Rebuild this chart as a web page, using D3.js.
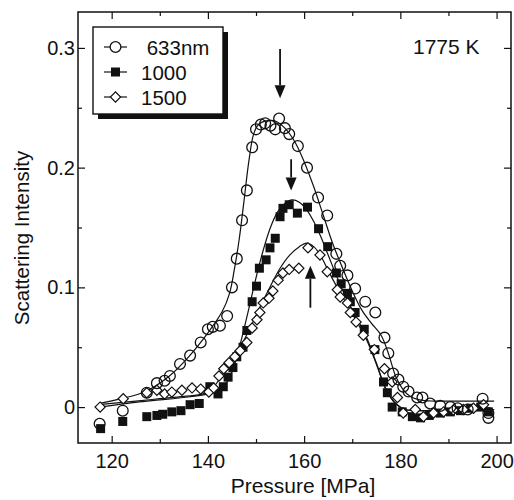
<!DOCTYPE html>
<html>
<head>
<meta charset="utf-8">
<title>Scattering Intensity</title>
<style>
body { margin: 0; background: #fff; }
svg text { font-family: "Liberation Sans", Arial, sans-serif; fill: #111; }
.axis path { display: none; }
.axis line { stroke: #111; stroke-width: 1.2; }
.axis text { font-size: 20px; }
.frame { fill: none; stroke: #111; stroke-width: 1.5; }
.fit { fill: none; stroke: #111; stroke-width: 1.2; }
</style>
</head>
<body>
<script src="https://cdn.jsdelivr.net/npm/d3@7"></script>
<script>
// measured points [pressure MPa, intensity]
var pts633 = [[117.5,-0.014],[122.3,-0.003],[127.3,0.012],[129.4,0.02],[131,0.022],[132.1,0.026],[134.2,0.036],[136.3,0.043],[138.5,0.054],[140,0.065],[141,0.067],[142.5,0.068],[144,0.076],[145,0.10],[146,0.124],[147.1,0.156],[148.1,0.181],[149.2,0.217],[150,0.232],[151,0.236],[151.9,0.237],[153,0.235],[154,0.232],[154.8,0.241],[156,0.233],[156.9,0.228],[158.7,0.218],[160.6,0.200],[162.9,0.175],[164.8,0.160],[166.7,0.128],[167.5,0.118],[169,0.110],[170.6,0.099],[172.7,0.088],[174.8,0.079],[176.7,0.058],[177.5,0.045],[178.5,0.028],[179.6,0.023],[180.6,0.017],[181.7,0.013],[183.5,0.008],[184.6,0.008],[186.2,0.003],[188.3,0.001],[190.4,0],[191.9,-0.001],[194,-0.002],[197.1,0.007],[198.3,-0.005],[198.3,-0.009]];
var pts1000 = [[117.7,-0.018],[122.3,-0.012],[127.3,-0.008],[129.4,-0.007],[130.6,-0.006],[132.5,-0.004],[134.4,-0.003],[136.3,0.002],[138.2,0.003],[140.4,0.017],[142.1,0.011],[143.2,0.017],[144.2,0.025],[145.2,0.033],[146,0.042],[147.3,0.05],[148.1,0.064],[149.2,0.088],[150.1,0.101],[150.7,0.116],[152.1,0.123],[152.9,0.133],[154,0.141],[155,0.159],[155.6,0.166],[156.9,0.169],[158.6,0.162],[160.7,0.167],[163,0.149],[164.9,0.134],[166.7,0.112],[167.7,0.103],[169,0.095],[169.6,0.088],[170.6,0.079],[172.5,0.065],[174.7,0.048],[176.5,0.021],[177.3,0.012],[178.3,0],[180.4,-0.004],[182.5,-0.008],[184.2,-0.009],[186,-0.007],[188.3,-0.005],[190.4,-0.004],[192.5,-0.003],[194.6,-0.001],[196.7,0],[198.3,-0.004]];
var pts1500 = [[117.6,0],[122.4,0.007],[127.3,0.012],[129.4,0.014],[131,0.011],[132.5,0.0125],[134.6,0.014],[136.7,0.016],[138.5,0.015],[140.2,0.0125],[141.2,0.016],[142.3,0.026],[143.3,0.032],[144.4,0.037],[145.6,0.042],[146.7,0.047],[148.1,0.054],[149.2,0.066],[150.2,0.073],[150.8,0.079],[151.5,0.087],[152.7,0.091],[153.5,0.097],[154.6,0.106],[155.6,0.112],[156.9,0.115],[158.9,0.116],[160.8,0.133],[163.3,0.127],[164.8,0.113],[166.9,0.098],[167.5,0.092],[169,0.087],[169.6,0.079],[170.8,0.071],[172.3,0.06],[174.6,0.048],[176.7,0.032],[178.3,0.021],[179.4,0.008],[180.6,-0.005],[183.1,-0.002],[184.8,-0.008],[186.9,-0.005],[189,-0.004],[191,-0.0025],[193.1,-0.002],[195.2,-0.001],[197.3,0.002]];

// fitted curves
var fit633 = [[117.3,0.003],[122,0.007],[127,0.013],[132,0.026],[136,0.042],[140,0.062],[143,0.08],[144.5,0.095],[145.5,0.115],[146.5,0.14],[147.5,0.172],[148.5,0.205],[149.5,0.228],[150.5,0.236],[152,0.239],[154,0.239],[156,0.233],[158,0.222],[160,0.205],[162,0.184],[164,0.16],[166,0.136],[168,0.116],[170,0.097],[172,0.081],[174,0.07],[176,0.06],[177.5,0.045],[179,0.026],[180.5,0.015],[182,0.009],[184,0.006],[187,0.005],[192,0.005],[199.5,0.005]];
var fit1000 = [[117.3,0.0],[125,0.004],[130,0.006],[135,0.008],[140,0.011],[142,0.014],[144,0.021],[145.5,0.035],[147,0.057],[148.5,0.082],[150,0.108],[151.5,0.131],[153,0.15],[154.5,0.163],[156,0.17],[157.5,0.173],[159,0.171],[160.5,0.165],[162,0.155],[163.5,0.142],[165,0.127],[167,0.107],[169,0.089],[171,0.074],[173,0.058],[175,0.037],[177,0.015],[179,0.003],[181,-0.002],[184,-0.003],[190,-0.002],[199.5,-0.002]];
var fit1500 = [[117.3,0.002],[125,0.005],[130,0.007],[135,0.009],[139,0.011],[141,0.016],[143,0.027],[145,0.039],[147,0.052],[149,0.068],[151,0.085],[153,0.101],[155,0.116],[157,0.127],[159,0.134],[160.5,0.137],[162,0.134],[163.5,0.126],[165,0.114],[167,0.099],[169,0.085],[171,0.071],[173,0.056],[175,0.036],[177,0.015],[179,0.003],[181,-0.002],[184,-0.003],[190,-0.002],[199.5,-0.002]];

var seriesNames = [" 633nm", "1000", "1500"];
var xTicks = [120, 140, 160, 180, 200];
var xMinor = [130, 150, 170, 190];
var yTicks = [0, 0.1, 0.2, 0.3];
var yTickLabels = ["0", "0.1", "0.2", "0.3"];
var yMinor = [0.05, 0.15, 0.25];
// arrows: pressure, tail intensity, tip intensity
var arrowP = [155, 157.3, 161.3];
var arrowFrom = [0.299, 0.207, 0.083];
var arrowTo = [0.258, 0.181, 0.118];

var width = 514, height = 500;
var svg = d3.select("body").append("svg")
	.attr("width", width)
	.attr("height", height);

var x = d3.scaleLinear().domain([113, 203]).range([78, 511]);
var y = d3.scaleLinear().domain([-0.03, 0.33]).range([443, 12]);

// axes, ticks inside on all four sides
svg.append("g").attr("class", "axis").attr("transform", "translate(0,443)")
	.call(d3.axisBottom(x).tickValues(xTicks).tickSize(-7).tickPadding(11));
svg.append("g").attr("class", "axis").attr("transform", "translate(0,443)")
	.call(d3.axisBottom(x).tickValues(xMinor).tickSize(-4).tickFormat(""));
svg.append("g").attr("class", "axis").attr("transform", "translate(0,12)")
	.call(d3.axisTop(x).tickValues(xTicks).tickSize(-7).tickFormat(""));
svg.append("g").attr("class", "axis").attr("transform", "translate(0,12)")
	.call(d3.axisTop(x).tickValues(xMinor).tickSize(-4).tickFormat(""));
svg.append("g").attr("class", "axis").attr("transform", "translate(78,0)")
	.call(d3.axisLeft(y).tickValues(yTicks).tickSize(-7).tickPadding(3)
		.tickFormat(function(d, i){ return yTickLabels[i]; }));
svg.append("g").attr("class", "axis").attr("transform", "translate(78,0)")
	.call(d3.axisLeft(y).tickValues(yMinor).tickSize(-4).tickFormat(""));
svg.append("g").attr("class", "axis").attr("transform", "translate(511,0)")
	.call(d3.axisRight(y).tickValues(yTicks).tickSize(-7).tickFormat(""));
svg.append("g").attr("class", "axis").attr("transform", "translate(511,0)")
	.call(d3.axisRight(y).tickValues(yMinor).tickSize(-4).tickFormat(""));

svg.append("rect").attr("class", "frame")
	.attr("x", x(113)).attr("y", y(0.33))
	.attr("width", x(203) - x(113)).attr("height", y(-0.03) - y(0.33));

// fitted lines
var line = d3.line()
	.x(function(d){ return x(d[0]); })
	.y(function(d){ return y(d[1]); })
	.curve(d3.curveCatmullRom.alpha(0.5));
[fit633, fit1000, fit1500].forEach(function(f){
	svg.append("path").attr("class", "fit").attr("d", line(f));
});

// markers
var sq = d3.symbol(d3.symbolSquare, 81)();
var dia = d3.symbol(d3.symbolSquare, 52)();
svg.append("g").selectAll("path")
	.data(pts1000).enter().append("path")
	.attr("d", sq)
	.attr("transform", function(d){ return "translate(" + x(d[0]) + "," + y(d[1]) + ")"; })
	.attr("fill", "#111");
svg.append("g").selectAll("path")
	.data(pts1500).enter().append("path")
	.attr("d", dia)
	.attr("transform", function(d){ return "translate(" + x(d[0]) + "," + y(d[1]) + ") rotate(45)"; })
	.attr("fill", "#fff").attr("stroke", "#111").attr("stroke-width", 1.2);
svg.append("g").selectAll("circle")
	.data(pts633).enter().append("circle")
	.attr("cx", function(d){ return x(d[0]); })
	.attr("cy", function(d){ return y(d[1]); })
	.attr("r", 5.4)
	.attr("fill", "none").attr("stroke", "#111").attr("stroke-width", 1.3);

// arrows
for (let i = 0; i < arrowP.length; i++) {
	var ax = x(arrowP[i]), y0 = y(arrowFrom[i]), y1 = y(arrowTo[i]);
	var dir = y1 > y0 ? 1 : -1;
	var hl = 13, hw = 5.5;
	svg.append("line")
		.attr("x1", ax).attr("x2", ax)
		.attr("y1", y0).attr("y2", y1 - dir * hl)
		.attr("stroke", "#111").attr("stroke-width", 1.8);
	svg.append("path")
		.attr("d", "M" + ax + "," + y1 + "L" + (ax - hw) + "," + (y1 - dir * hl) + "L" + (ax + hw) + "," + (y1 - dir * hl) + "Z")
		.attr("fill", "#111");
}

// legend
var lg = svg.append("g");
lg.append("rect").attr("x", 98).attr("y", 32).attr("width", 130).attr("height", 87).attr("fill", "#111");
lg.append("rect").attr("x", 93).attr("y", 27).attr("width", 130).attr("height", 87)
	.attr("fill", "#fff").attr("stroke", "#111").attr("stroke-width", 1.4);
seriesNames.forEach(function(name, i){
	var ry = 47 + i * 25;
	lg.append("line").attr("x1", 104).attr("x2", 127).attr("y1", ry).attr("y2", ry)
		.attr("stroke", "#111").attr("stroke-width", 1.2);
	if (i == 0) {
		lg.append("circle").attr("cx", 115.5).attr("cy", ry).attr("r", 5.4)
			.attr("fill", "#fff").attr("stroke", "#111").attr("stroke-width", 1.3);
	} else if (i == 1) {
		lg.append("path").attr("d", sq).attr("transform", "translate(115.5," + ry + ")").attr("fill", "#111");
	} else {
		lg.append("path").attr("d", dia).attr("transform", "translate(115.5," + ry + ") rotate(45)")
			.attr("fill", "#fff").attr("stroke", "#111").attr("stroke-width", 1.2);
	}
	lg.append("text").attr("x", 141).attr("y", ry + 7.5)
		.style("white-space", "pre").style("font-size", "20.5px")
		.text(name);
});

svg.append("text").attr("x", 413).attr("y", 54).style("font-size", "21px").text("1775 K");

// axis titles
svg.append("text")
	.attr("x", 303).attr("y", 493)
	.attr("text-anchor", "middle").style("font-size", "21px")
	.text("Pressure [MPa]");
svg.append("text")
	.attr("transform", "translate(29," + 238 + ") rotate(-90)")
	.attr("text-anchor", "middle").style("font-size", "20.5px")
	.text("Scattering Intensity");
</script>
</body>
</html>
